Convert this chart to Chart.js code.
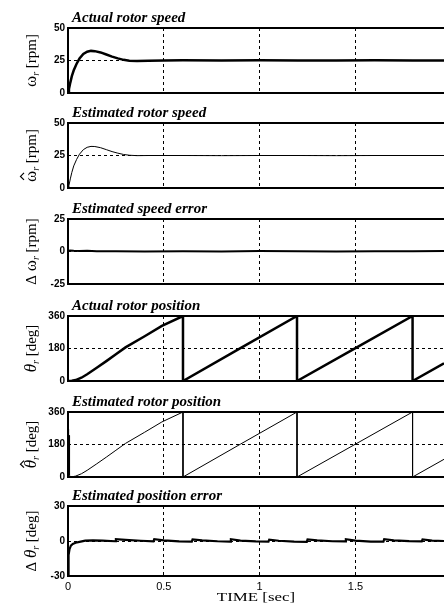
<!DOCTYPE html>
<html>
<head>
<meta charset="utf-8">
<script src="https://cdn.jsdelivr.net/npm/chart.js@4.4.1/dist/chart.umd.min.js"></script>
<style>
html, body { margin: 0; padding: 0; background: #fff; overflow: hidden; }
#wrap { position: relative; width: 444px; height: 613px; }
#wrap canvas { position: absolute; left: 0; }
</style>
</head>
<body>
<div id="wrap"></div>
<script>
// time axis [sec]
const xTicks = [0, 0.5, 1, 1.5];
const tMax = 1.962;

// rotor speed, actual and estimated [rpm]
const speedTime   = [0, 0.005, 0.012, 0.02, 0.03, 0.045, 0.06, 0.08, 0.1, 0.12, 0.14, 0.17, 0.2, 0.23, 0.26, 0.29, 0.32, 0.36, 0.42, 0.5, 0.6, 0.8, 1.0, 1.2, 1.4, 1.6, 1.8, 1.962];
const speedActual = [0, 3, 8, 13, 17.5, 22.5, 26.5, 30, 31.8, 32.4, 32.2, 31.2, 29.6, 28, 26.6, 25.5, 24.9, 24.7, 24.9, 25, 25.1, 25, 25.1, 25, 25, 25.1, 25, 25];
const speedEst    = [0, 2, 7, 12, 17, 22, 26, 29.5, 31.3, 32, 31.9, 31, 29.5, 28, 26.8, 25.8, 25.2, 24.9, 25, 25, 25, 24.9, 25, 25, 24.9, 25, 25, 25];

// speed estimation error [rpm]
const speedErrTime = [0, 0.01, 0.03, 0.06, 0.1, 0.15, 0.25, 0.4, 0.6, 0.8, 1.0, 1.2, 1.4, 1.6, 1.8, 1.962];
const speedErr     = [0, 0.8, 0.6, 0.4, 0.5, 0.2, 0.1, 0, 0.2, 0, 0.3, 0.1, 0, 0.2, 0.1, 0.3];

// rotor position, actual [deg]
const posTime   = [0, 0.02, 0.04, 0.07, 0.1, 0.15, 0.2, 0.25, 0.3, 0.4, 0.49, 0.6, 0.6, 0.9, 1.195, 1.195, 1.5, 1.798, 1.798, 1.962];
const posActual = [0, 1, 5, 18, 37, 73, 110, 148, 186, 248, 305, 360, 0, 182, 360, 0, 182, 360, 0, 98];

// rotor position, estimated [deg]
const posEstTime = [0, 0.002, 0.004, 0.006, 0.008, 0.012, 0.02, 0.04, 0.07, 0.1, 0.15, 0.2, 0.25, 0.3, 0.4, 0.49, 0.6, 0.6, 0.9, 1.195, 1.195, 1.5, 1.798, 1.798, 1.962];
const posEst     = [0, 265, 40, 230, 10, 0, 1, 5, 18, 37, 73, 110, 148, 186, 248, 305, 360, 0, 182, 360, 0, 182, 360, 0, 98];

// position estimation error [deg]
const posErrTime = [0, 0.003, 0.008, 0.015, 0.025, 0.04, 0.06, 0.09, 0.13, 0.18, 0.246, 0.25, 0.3, 0.38, 0.446, 0.45, 0.5, 0.58, 0.646, 0.65, 0.7, 0.78, 0.846, 0.85, 0.9, 0.98, 1.046, 1.05, 1.1, 1.18, 1.246, 1.25, 1.3, 1.38, 1.446, 1.45, 1.5, 1.58, 1.646, 1.65, 1.7, 1.78, 1.846, 1.85, 1.9, 1.962];
const posErr     = [-30, -12, -7, -4, -2.5, -1.5, -0.8, 0.3, 0.6, 0.3, -0.2, 1.5, 0.9, 0.2, -0.3, 1.6, 0.5, -0.4, -0.6, 1.4, 0.6, -0.2, -0.5, 1.5, 0.4, -0.3, -0.6, 1.2, 0.2, -0.6, -0.8, 1.4, 0.5, -0.2, -0.4, 1.5, 0.3, -0.5, -0.5, 1.6, 0.6, -0.1, -0.4, 1.3, 0.4, 0];

// y tick values per panel
const speedTicks  = [0, 25, 50];
const errTicks    = [-25, 0, 25];
const posTicks    = [0, 180, 360];
const posErrTicks = [-30, 0, 30];

const SERIF = '"Liberation Serif", "Times New Roman", serif';
const SANS = '"Liberation Sans", Arial, sans-serif';

const omega = (hat) => ({ text: '\u03c9', font: '17px ' + SERIF, hat });
const theta = (hat) => ({ text: '\u03b8', font: 'italic 17px ' + SERIF, hat });
const sub = { text: 'r', font: 'italic 10px ' + SERIF, dy: 3 };
const delta = { text: '\u0394 ', font: '15px ' + SERIF };
const rpm = { text: ' [rpm]', font: '15px ' + SERIF };
const deg = { text: ' [deg]', font: '15px ' + SERIF };

function pts(xs, ys) {
  return xs.map((x, i) => ({ x, y: ys[i] }));
}

function stretchText(ctx, text, x, y, font, sx, align) {
  ctx.save();
  ctx.font = font;
  ctx.translate(x, y);
  ctx.scale(sx, 1);
  ctx.textAlign = align || 'left';
  ctx.fillText(text, 0, 0);
  ctx.restore();
}

// rotated y label built from pieces (symbol, subscript, hat, unit)
function drawAxisLabel(ctx, parts, x, y) {
  ctx.save();
  ctx.translate(x, y);
  ctx.rotate(-Math.PI / 2);
  let total = 0;
  parts.forEach(p => { ctx.font = p.font; p.w = ctx.measureText(p.text).width; total += p.w; });
  let cx = -total / 2;
  parts.forEach(p => {
    ctx.font = p.font;
    ctx.fillText(p.text, cx, p.dy || 0);
    if (p.hat) {
      const m = cx + p.w / 2;
      ctx.beginPath();
      ctx.lineWidth = 1.2;
      ctx.moveTo(m - 3.5, -12);
      ctx.lineTo(m, -15.5);
      ctx.lineTo(m + 3.5, -12);
      ctx.stroke();
    }
    cx += p.w;
  });
  ctx.restore();
}

const panelPlugin = {
  id: 'panel',
  afterDraw(chart, args, opts) {
    const { ctx, chartArea: a } = chart;
    ctx.save();
    ctx.strokeStyle = '#000';
    ctx.fillStyle = '#000';
    ctx.lineWidth = 2;
    ctx.beginPath();
    ctx.moveTo(chart.width + 2, a.top);
    ctx.lineTo(a.left, a.top);
    ctx.lineTo(a.left, a.bottom);
    ctx.lineTo(chart.width + 2, a.bottom);
    ctx.stroke();
    stretchText(ctx, opts.title, a.left + 4, a.top - 6, 'italic bold 15px ' + SERIF, 1.0);
    drawAxisLabel(ctx, opts.label, 36, (a.top + a.bottom) / 2);
    if (opts.xTitle) {
      stretchText(ctx, opts.xTitle, (a.left + a.right) / 2, a.bottom + 25, '13px ' + SERIF, 1.3, 'center');
    }
    ctx.restore();
  }
};

const panels = [
  { top: 28, title: 'Actual rotor speed', label: [omega(false), sub, rpm], yTicks: speedTicks,
    series: [{ data: pts(speedTime, speedActual), w: 2.5 }] },
  { top: 123, title: 'Estimated rotor speed', label: [omega(true), sub, rpm], yTicks: speedTicks,
    series: [{ data: pts(speedTime, speedEst), w: 1 }] },
  { top: 219, title: 'Estimated speed error', label: [delta, omega(false), sub, rpm], yTicks: errTicks,
    series: [{ data: pts(speedErrTime, speedErr), w: 2 }] },
  { top: 316, title: 'Actual rotor position', label: [theta(false), sub, deg], yTicks: posTicks,
    series: [{ data: pts(posTime, posActual), w: 2.5 }] },
  { top: 412, title: 'Estimated rotor position', label: [theta(true), sub, deg], yTicks: posTicks,
    series: [{ data: pts(posEstTime, posEst), w: 1 }] },
  { top: 506, title: 'Estimated position error', label: [delta, theta(false), sub, deg], yTicks: posErrTicks,
    series: [{ data: pts(posErrTime, posErr), w: 2.2 }], last: true }
];

const PLOT_H = 70, HEAD = 26;

panels.forEach(p => {
  const foot = p.last ? 36 : 4;
  const canvas = document.createElement('canvas');
  canvas.width = 444;
  canvas.height = HEAD + PLOT_H + foot;
  canvas.style.top = (p.top - HEAD) + 'px';
  document.getElementById('wrap').appendChild(canvas);

  new Chart(canvas.getContext('2d'), {
    type: 'line',
    data: {
      datasets: p.series.map(s => ({
        data: s.data,
        borderColor: '#000',
        borderWidth: s.w,
        pointRadius: 0,
        tension: 0,
        fill: false
      }))
    },
    options: {
      responsive: false,
      animation: false,
      events: [],
      layout: { padding: { top: HEAD, bottom: p.last ? 0 : 4, left: 0, right: 0 } },
      plugins: {
        legend: { display: false },
        tooltip: { enabled: false },
        panel: { title: p.title, label: p.label, xTitle: p.last ? 'TIME [sec]' : null }
      },
      scales: {
        x: {
          type: 'linear',
          min: 0,
          max: tMax,
          afterBuildTicks: s => { s.ticks = xTicks.map(v => ({ value: v })); },
          afterFit: s => { s.height = p.last ? 36 : 0; },
          grid: { color: '#000', lineWidth: 1, drawTicks: false },
          border: { display: false, dash: [3, 3] },
          ticks: {
            display: !!p.last,
            color: '#000',
            padding: 4,
            maxRotation: 0,
            callback: v => String(v),
            font: { family: SANS, size: 11 }
          }
        },
        y: {
          min: p.yTicks[0],
          max: p.yTicks[p.yTicks.length - 1],
          afterBuildTicks: s => { s.ticks = p.yTicks.map(v => ({ value: v })); },
          afterFit: s => { s.width = 68; },
          grid: { color: '#000', lineWidth: 1, drawTicks: false },
          border: { display: false, dash: [3, 3] },
          ticks: {
            color: '#000',
            padding: 3,
            callback: v => String(v),
            font: { family: SANS, size: 10, weight: 'bold' }
          }
        }
      }
    },
    plugins: [panelPlugin]
  });
});
</script>
</body>
</html>
